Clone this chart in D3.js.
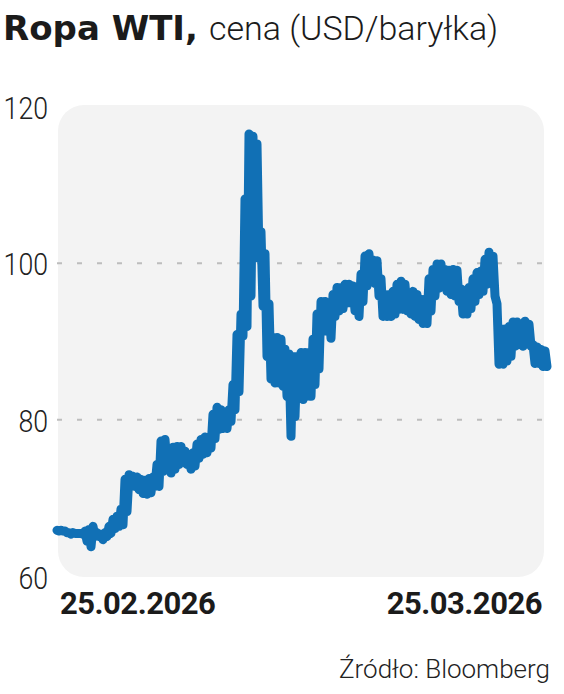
<!DOCTYPE html>
<html>
<head>
<meta charset="utf-8">
<script src="https://cdn.jsdelivr.net/npm/d3@7"></script>
<style>
  html, body { margin: 0; padding: 0; background: #ffffff; }
  svg { display: block; }
</style>
</head>
<body>
<svg id="chart" width="564" height="694"></svg>
<script>
// ---- data ----
const titleBold = "Ropa WTI,";
const titleLight = "cena (USD/baryłka)";
const source = "Źródło: Bloomberg";
const xTickLabels = ["25.02.2026", "25.03.2026"];
const yTicks = [60, 80, 100, 120];
const gridValues = [80, 100];
// intraday high / low envelope per time step
const highs = [65.9,65.9,65.8,65.6,65.6,65.5,65.5,65.8,66.0,66.4,
  65.6,65.4,65.6,66.4,67.3,67.7,68.6,72.4,73.0,72.8,
  72.7,72.4,72.3,72.5,72.7,74.3,77.3,77.5,76.2,76.5,
  76.6,76.6,76.0,75.0,75.8,76.9,77.5,77.8,77.8,80.7,
  81.6,81.3,80.7,81.3,84.5,90.9,93.5,108.2,116.5,116.2,
  115.2,104.0,101.2,94.8,90.5,90.5,90.3,89.0,88.4,88.1,
  88.1,88.6,88.6,88.6,90.3,93.5,95.1,95.1,94.5,96.0,
  96.9,96.9,97.3,97.3,97.1,96.8,98.6,100.9,101.2,100.4,
  100.3,98.0,96.0,96.0,96.4,97.3,97.7,97.3,96.0,96.4,
  96.0,95.4,95.4,98.0,99.2,99.9,99.9,99.2,99.1,99.2,
  99.1,96.7,96.0,96.9,98.0,98.8,99.0,100.5,101.4,100.9,
  94.8,91.6,91.6,91.9,92.5,92.5,92.2,92.6,92.2,89.6,
  89.3,89.0,88.8];
const lows = [65.8,65.8,65.6,65.4,65.5,65.5,65.4,64.5,63.8,65.1,
  65.1,64.7,65.1,65.5,66.1,66.4,66.6,68.3,71.5,71.5,
  71.1,70.6,70.5,70.7,71.5,71.5,73.4,74.3,73.2,73.7,
  74.3,74.7,74.3,73.7,74.1,75.1,75.6,75.8,76.4,77.6,
  78.8,78.9,78.9,79.8,81.3,83.6,90.7,91.9,95.8,101.2,
  100.6,94.5,88.1,85.2,84.7,84.7,84.3,83.0,77.9,80.4,
  83.0,82.6,83.0,83.0,84.5,86.5,91.6,91.3,90.4,93.2,
  93.9,94.2,94.9,94.9,93.9,93.2,95.1,97.1,97.7,97.4,
  95.8,93.2,93.2,93.2,93.5,94.1,94.1,93.9,93.5,93.2,
  92.8,92.3,92.3,93.9,95.8,96.8,97.1,96.4,96.0,95.8,
  95.1,93.5,93.5,94.2,95.1,96.0,96.4,97.3,97.7,95.8,
  87.1,87.1,87.5,88.1,89.4,89.6,89.4,90.0,89.4,87.2,
  87.2,86.8,86.8];

// ---- layout ----
const svg = d3.select("#chart");
const panel = { x: 58, y: 105, w: 486, h: 472, r: 26 };
const n = highs.length;

const x = d3.scaleLinear().domain([0, n - 0.5]).range([57, 547]);
const y = d3.scaleLinear().domain([60, 120]).range([576.5, 106.5]);

// title
const title = svg.append("text")
  .attr("x", 3).attr("y", 40)
  .attr("fill", "#1b1b1b");
title.append("tspan")
  .attr("font-family", "'DejaVu Sans', sans-serif")
  .attr("font-weight", 700)
  .attr("font-size", 34)
  .text(titleBold);
title.append("tspan")
  .attr("dx", 11)
  .attr("font-family", "Roboto, 'Noto Sans', sans-serif")
  .attr("font-weight", 300)
  .attr("font-size", 34)
  .text(titleLight);

// panel
svg.append("rect")
  .attr("x", panel.x).attr("y", panel.y)
  .attr("width", panel.w).attr("height", panel.h)
  .attr("rx", panel.r).attr("ry", panel.r)
  .attr("fill", "#f3f3f3");

// grid lines
svg.append("g").selectAll("line")
  .data(gridValues).join("line")
  .attr("x1", 57).attr("x2", 546)
  .attr("y1", d => y(d)).attr("y2", d => y(d))
  .attr("stroke", "#bdbdbd")
  .attr("stroke-width", 2)
  .attr("stroke-dasharray", "5,15");

// y axis labels (condensed look)
const yAxis = d3.axisLeft(y).tickValues(yTicks).tickSize(0).tickPadding(0);
const yg = svg.append("g").attr("transform", "translate(48,0)").call(yAxis);
yg.select(".domain").remove();
yg.selectAll("text")
  .attr("font-family", "Roboto, 'Noto Sans', sans-serif")
  .attr("font-weight", 300)
  .attr("font-size", 32)
  .attr("fill", "#222")
  .attr("dy", "0.36em")
  .attr("textLength", function () { return this.textContent.length * 14.8; })
  .attr("lengthAdjust", "spacingAndGlyphs");

// price line: alternate high/low within each step
const pts = [];
highs.forEach((h, i) => {
  pts.push([i, h]);
  pts.push([i + 0.5, lows[i]]);
});
const line = d3.line().x(d => x(d[0])).y(d => y(d[1]));
svg.append("path")
  .datum(pts)
  .attr("d", line)
  .attr("fill", "none")
  .attr("stroke", "#1170b5")
  .attr("stroke-width", 9)
  .attr("stroke-linejoin", "round")
  .attr("stroke-linecap", "round");

// x labels
svg.append("g").selectAll("text")
  .data(xTickLabels).join("text")
  .attr("x", (d, i) => i === 0 ? x(0) + 3 : x(n - 1) - 3)
  .attr("y", 614)
  .attr("text-anchor", (d, i) => i === 0 ? "start" : "end")
  .attr("font-family", "Roboto, 'Noto Sans', sans-serif")
  .attr("font-weight", 700)
  .attr("font-size", 31)
  .attr("letter-spacing", -0.5)
  .attr("fill", "#1b1b1b")
  .text(d => d);

// source
svg.append("text")
  .attr("x", 550).attr("y", 678)
  .attr("text-anchor", "end")
  .attr("font-family", "Roboto, 'Noto Sans', sans-serif")
  .attr("font-weight", 300)
  .attr("font-size", 26)
  .attr("fill", "#222")
  .text(source);
</script>
</body>
</html>
